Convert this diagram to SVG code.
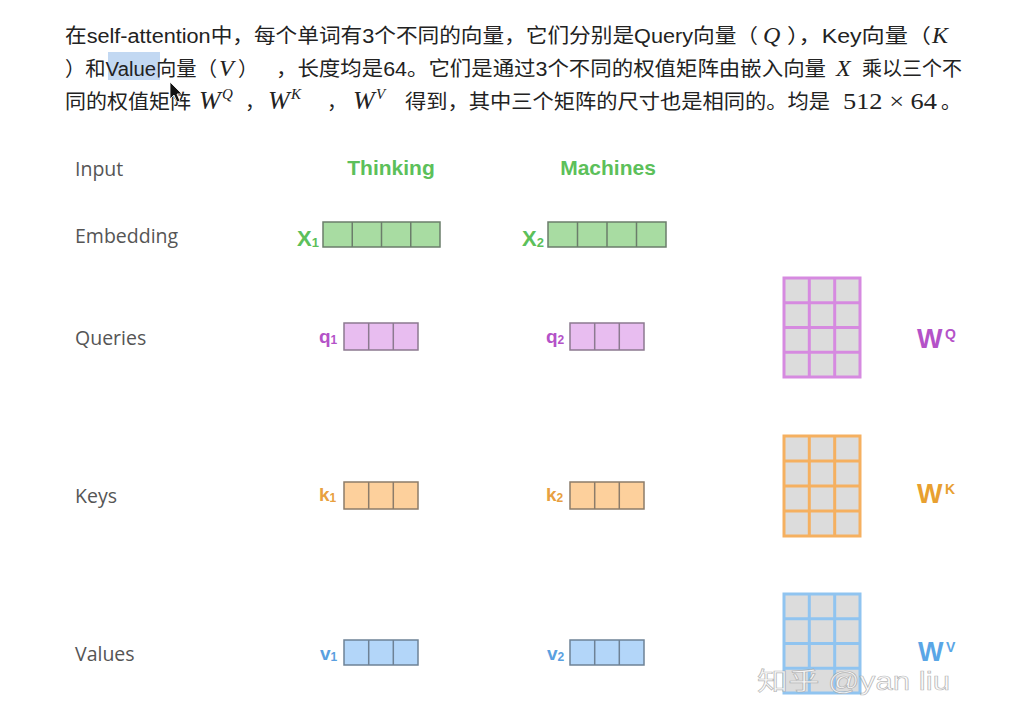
<svg xmlns="http://www.w3.org/2000/svg" width="1024" height="713" viewBox="0 0 1024 713">
<style>
.cn{font-family:"Liberation Sans","Noto Sans CJK SC",sans-serif;font-size:20px;fill:#222}
.mi{font-family:"Liberation Serif","DejaVu Serif",serif;font-style:italic;font-size:24px;fill:#222}
.mw{font-family:"Liberation Serif","DejaVu Serif",serif;font-style:italic;font-size:26px;fill:#222}
.mr{font-family:"Liberation Serif","DejaVu Serif",serif;font-size:24px;fill:#222}
.sup{font-family:"Liberation Serif","DejaVu Serif",serif;font-style:italic;font-size:15px;fill:#222}
.lbl{font-family:"Open Sans","Liberation Sans",sans-serif;font-size:19.5px;fill:#555}
.word{font-family:"Liberation Sans",sans-serif;font-weight:bold;font-size:21px;fill:#5cc05a;text-anchor:middle}
.sym{font-family:"Liberation Sans",sans-serif;font-weight:bold}
.g{fill:#a8dca2;stroke:#6b7d6b;stroke-width:1.5}
.q{fill:#e8bdf0;stroke:#8c7a90;stroke-width:1.5}
.k{fill:#fdd09c;stroke:#8c7c6a;stroke-width:1.5}
.v{fill:#b3d6f9;stroke:#6e8296;stroke-width:1.5}
.mat{fill:#dcdcdc}
</style>
<rect width="1024" height="713" fill="#fff"/>

<g id="paragraph">
<rect x="108" y="52" width="52" height="28" fill="#c2d8f2"/>
<text class="cn" x="65" y="43" textLength="693" lengthAdjust="spacingAndGlyphs">在self-attention中，每个单词有3个不同的向量，它们分别是Query向量（</text>
<text class="mi" x="763" y="43">Q</text>
<text class="cn" x="787" y="43" textLength="144" lengthAdjust="spacingAndGlyphs">），Key向量（</text>
<text class="mi" x="932" y="43">K</text>

<text class="cn" x="65" y="76" textLength="152" lengthAdjust="spacingAndGlyphs">）和Value向量（</text>
<text class="mi" x="219" y="76">V</text>
<text class="cn" x="238" y="76">）</text>
<text class="cn" x="276" y="76" textLength="550" lengthAdjust="spacingAndGlyphs">，长度均是64。它们是通过3个不同的权值矩阵由嵌入向量</text>
<text class="mi" x="836" y="76">X</text>
<text class="cn" x="862" y="76" textLength="100" lengthAdjust="spacingAndGlyphs">乘以三个不</text>

<text class="cn" x="65" y="109" textLength="126" lengthAdjust="spacingAndGlyphs">同的权值矩阵</text>
<text class="mw" x="199" y="109">W</text><text class="sup" x="222" y="99">Q</text>
<text class="cn" x="245" y="109">，</text>
<text class="mw" x="268" y="109">W</text><text class="sup" x="291" y="99">K</text>
<text class="cn" x="327" y="109">，</text>
<text class="mw" x="353" y="109">W</text><text class="sup" x="376" y="99">V</text>
<text class="cn" x="405" y="109" textLength="425" lengthAdjust="spacingAndGlyphs">得到，其中三个矩阵的尺寸也是相同的。均是</text>
<text class="mr" x="843" y="109" textLength="94" lengthAdjust="spacingAndGlyphs">512 × 64</text>
<text class="cn" x="941" y="109">。</text>
<path d="M170,82 L170,99 L174,95 L177,102 L180,101 L177,94 L182,94 Z" fill="#111" stroke="#fff" stroke-width="0.8"/>
</g>

<g id="labels">
<text class="lbl" x="75" y="176">Input</text>
<text class="lbl" x="75" y="243">Embedding</text>
<text class="lbl" x="75" y="345">Queries</text>
<text class="lbl" x="75" y="503">Keys</text>
<text class="lbl" x="75" y="661">Values</text>
</g>

<g id="word-thinking"><text class="word" x="391" y="175">Thinking</text></g>
<g id="word-machines"><text class="word" x="608" y="175">Machines</text></g>

<g id="x1">
<text class="sym" x="297" y="246" font-size="22" fill="#5cc05a">X<tspan font-size="13" dy="1">1</tspan></text>
<rect class="g" x="323" y="222" width="117" height="25"/>
<path d="M352.25,222V247M381.5,222V247M410.75,222V247" stroke="#6b7d6b" stroke-width="1.5"/>
</g>
<g id="x2">
<text class="sym" x="522" y="246" font-size="22" fill="#5cc05a">X<tspan font-size="13" dy="1">2</tspan></text>
<rect class="g" x="548" y="222" width="118" height="25"/>
<path d="M577.5,222V247M607,222V247M636.5,222V247" stroke="#6b7d6b" stroke-width="1.5"/>
</g>

<g id="q1">
<text class="sym" x="319" y="343" font-size="19" fill="#b452c8">q<tspan font-size="12" dy="1">1</tspan></text>
<rect class="q" x="344" y="323" width="74" height="27"/>
<path d="M368.7,323V350M393.3,323V350" stroke="#8c7a90" stroke-width="1.5"/>
</g>
<g id="q2">
<text class="sym" x="546" y="343" font-size="19" fill="#b452c8">q<tspan font-size="12" dy="1">2</tspan></text>
<rect class="q" x="570" y="323" width="74" height="27"/>
<path d="M594.7,323V350M619.3,323V350" stroke="#8c7a90" stroke-width="1.5"/>
</g>

<g id="k1">
<text class="sym" x="319" y="501" font-size="19" fill="#e8a040">k<tspan font-size="12" dy="1">1</tspan></text>
<rect class="k" x="344" y="482" width="74" height="27"/>
<path d="M368.7,482V509M393.3,482V509" stroke="#8c7c6a" stroke-width="1.5"/>
</g>
<g id="k2">
<text class="sym" x="546" y="501" font-size="19" fill="#e8a040">k<tspan font-size="12" dy="1">2</tspan></text>
<rect class="k" x="570" y="482" width="74" height="27"/>
<path d="M594.7,482V509M619.3,482V509" stroke="#8c7c6a" stroke-width="1.5"/>
</g>

<g id="v1">
<text class="sym" x="320" y="660" font-size="19" fill="#5aa0e0">v<tspan font-size="12" dy="1">1</tspan></text>
<rect class="v" x="344" y="640" width="74" height="25"/>
<path d="M368.7,640V665M393.3,640V665" stroke="#6e8296" stroke-width="1.5"/>
</g>
<g id="v2">
<text class="sym" x="547" y="660" font-size="19" fill="#5aa0e0">v<tspan font-size="12" dy="1">2</tspan></text>
<rect class="v" x="570" y="640" width="74" height="25"/>
<path d="M594.7,640V665M619.3,640V665" stroke="#6e8296" stroke-width="1.5"/>
</g>

<g id="wq">
<rect class="mat" x="784" y="278" width="76" height="99"/>
<path d="M784,278H860V377H784Z M809.3,278V377 M834.7,278V377 M784,302.75H860 M784,327.5H860 M784,352.25H860" fill="none" stroke="#d68ae0" stroke-width="3"/>
<text class="sym" x="917" y="348" font-size="27" fill="#b452c8">W</text>
<text class="sym" x="945" y="339" font-size="14" fill="#b452c8">Q</text>
</g>

<g id="wk">
<rect class="mat" x="784" y="436" width="76" height="100"/>
<path d="M784,436H860V536H784Z M809.3,436V536 M834.7,436V536 M784,461H860 M784,486H860 M784,511H860" fill="none" stroke="#f5b060" stroke-width="3"/>
<text class="sym" x="917" y="503" font-size="27" fill="#e8a030">W</text>
<text class="sym" x="945" y="494" font-size="14" fill="#e8a030">K</text>
</g>

<g id="wv">
<rect class="mat" x="784" y="594" width="76" height="99"/>
<path d="M784,594H860V693H784Z M809.3,594V693 M834.7,594V693 M784,618.75H860 M784,643.5H860 M784,668.25H860" fill="none" stroke="#90c4f0" stroke-width="3"/>
<text class="sym" x="918" y="661" font-size="27" fill="#5aa6e6">W</text>
<text class="sym" x="946" y="652" font-size="14" fill="#5aa6e6">V</text>
</g>

<g id="watermark">
<text x="757" y="690" font-family="'Liberation Sans','Noto Sans CJK SC',sans-serif" font-size="25" fill="#fafafa" fill-opacity="0.9" stroke="#9a9a9a" stroke-width="0.7" stroke-opacity="0.7" textLength="193" lengthAdjust="spacingAndGlyphs">知乎 @yan liu</text>
</g>
</svg>
